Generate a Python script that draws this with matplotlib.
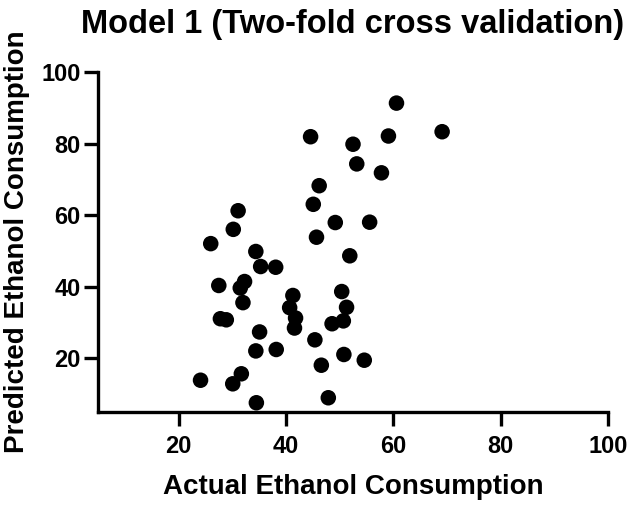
import matplotlib
matplotlib.use("Agg")
import matplotlib.pyplot as plt

actual = [44.6, 52.5, 53.2, 46.2, 45.1, 49.2, 55.6, 45.7, 51.9, 31.1,
          30.2, 26.0, 34.4, 60.6, 59.1, 69.1, 57.8, 35.3, 38.1, 27.5,
          32.3, 31.5, 32.0, 41.3, 40.7, 41.8, 41.6, 50.4, 51.3, 50.7,
          48.6, 27.8, 28.9, 35.1, 45.4, 34.4, 38.2, 50.8, 54.6, 46.6,
          24.1, 31.7, 30.1, 34.5, 47.9]
predicted = [81.9, 79.8, 74.3, 68.2, 63.0, 57.9, 58.0, 53.8, 48.6, 61.2,
             56.0, 52.0, 49.8, 91.3, 82.1, 83.3, 71.8, 45.6, 45.4, 40.3,
             41.4, 39.6, 35.5, 37.5, 34.1, 31.2, 28.4, 38.6, 34.2, 30.4,
             29.6, 31.0, 30.7, 27.3, 25.1, 22.0, 22.4, 21.0, 19.4, 18.0,
             13.8, 15.6, 12.8, 7.5, 8.9]
xticks = [20, 40, 60, 80, 100]
yticks = [20, 40, 60, 80, 100]

plt.rcParams['font.family'] = ['Liberation Sans', 'DejaVu Sans']
plt.rcParams['font.weight'] = 'bold'

fig = plt.figure(figsize=(6.3, 5.08), dpi=100)
ax = fig.add_axes([98/630, 1 - 411.7/508, (608 - 98)/630, (411.7 - 72)/508])
ax.scatter(actual, predicted, s=125, color='black', edgecolors='none', zorder=3, clip_on=False)
ax.set_xlim(5, 100)
ax.set_ylim(5, 100)
ax.set_xticks(xticks)
ax.set_yticks(yticks)
for s in ['top', 'right']:
    ax.spines[s].set_visible(False)
for s in ['left', 'bottom']:
    ax.spines[s].set_linewidth(2.4)
    ax.spines[s].set_capstyle('projecting')
ax.tick_params(length=10, width=2.4, labelsize=17)
ax.tick_params(axis='x', pad=6.5)
ax.tick_params(axis='y', pad=2.5)
for lab in ax.get_xticklabels() + ax.get_yticklabels():
    lab.set_fontweight('bold')
ax.set_xlabel('Actual Ethanol Consumption', fontsize=20, fontweight='bold', labelpad=12)
ax.set_ylabel('Predicted Ethanol Consumption', fontsize=20, fontweight='bold', labelpad=8)
ax.set_title('Model 1 (Two-fold cross validation)', fontsize=23.5, fontweight='bold', pad=28)

fig.savefig('out.png', dpi=100)
